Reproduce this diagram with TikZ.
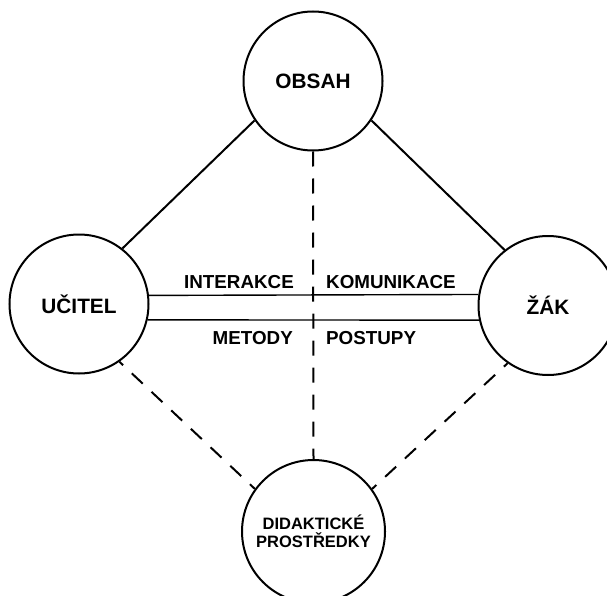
\documentclass[tikz,border=0pt]{standalone}
\usepackage{fontspec}
\setmainfont{Liberation Sans}
\begin{document}
\begin{tikzpicture}[x=1pt,y=-1pt,
  bigc/.style={circle,draw,line width=2pt,minimum size=139pt,inner sep=0pt,fill=white,align=center},
  solidl/.style={line width=2pt},
  dashl/.style={line width=2pt,dash pattern=on 15pt off 12pt},
  dbl/.style={line width=1.4pt},
  ctxt/.style={font=\bfseries\fontsize{20.8}{22}\selectfont},
  lbl/.style={font=\bfseries\fontsize{18.8}{20}\selectfont,inner sep=0pt}
]
\useasboundingbox (0,0) rectangle (607,596);
% circles
\node[bigc,ctxt] (o) at (313,81) {OBSAH};
\node[bigc,ctxt] (u) at (79,304) {UČITEL};
\node[bigc,ctxt] (z) at (548,305.5) {ŽÁK};
\node[bigc,minimum size=143pt,font=\bfseries\fontsize{16.5}{18.5}\selectfont] (d) at (313.5,531.5) {DIDAKTICKÉ\\PROSTŘEDKY};
% solid connectors
\draw[solidl] (o.214) -- (u.52);
\draw[solidl] (o.-34) -- (z.128);
% dashed connectors
\draw[dashl,dash phase=10pt] (u.-55) -- (d.144);
\draw[dashl,dash phase=10pt] (z.-125) -- (d.36);
\draw[dashl] (o.south) -- (d.north);
% double lines
\draw[dbl] (u.7.5) -- (z.171.3);
\draw[dbl] (u.-13.4) -- (z.192);
% labels
\node[lbl,anchor=east] (ia) at (294,282) {INTERAKCE};
\node[lbl,anchor=west] (ko) at (326,282) {KOMUNIKACE};
\node[lbl,anchor=east] (me) at (293,338) {METODY};
\node[lbl,anchor=west] (po) at (326,338) {POSTUPY};
\end{tikzpicture}
\end{document}
